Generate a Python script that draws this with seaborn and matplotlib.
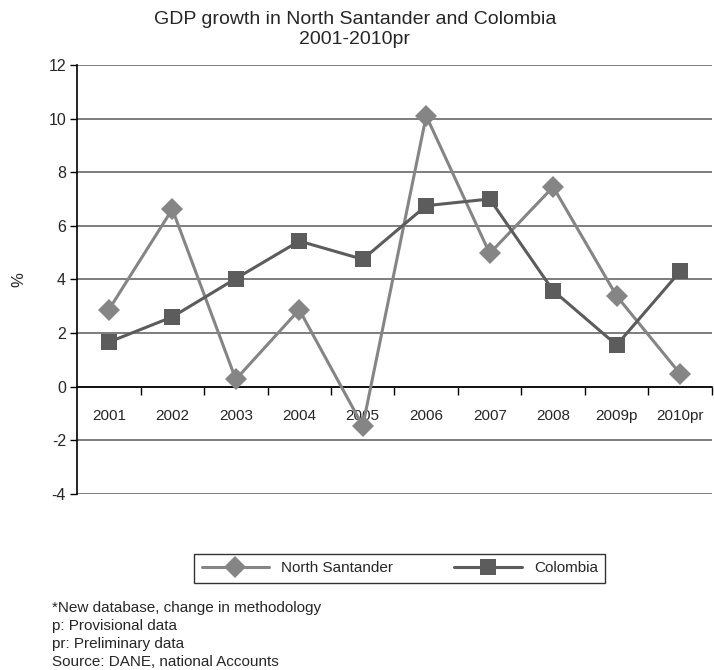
import pandas as pd
import matplotlib
matplotlib.use('Agg')
import matplotlib.pyplot as plt
import seaborn as sns

years = ['2001', '2002', '2003', '2004', '2005', '2006', '2007', '2008', '2009p', '2010pr']
north_santander = [2.87, 6.62, 0.27, 2.87, -1.47, 10.1, 4.97, 7.45, 3.38, 0.48]
colombia = [1.66, 2.6, 4.03, 5.43, 4.75, 6.75, 7.0, 3.58, 1.55, 4.3]
series_names = ['North Santander', 'Colombia']
notes = ['*New database, change in methodology',
         'p: Provisional data',
         'pr: Preliminary data',
         'Source: DANE, national Accounts']

df = pd.DataFrame({
    'year': years * 2,
    'growth': north_santander + colombia,
    'region': [series_names[0]] * len(years) + [series_names[1]] * len(years),
})

sns.set_style('white')
plt.rcParams['font.family'] = ['Liberation Sans', 'DejaVu Sans']
plt.rcParams['axes.unicode_minus'] = False

fig = plt.figure(figsize=(7.14, 6.70), dpi=100)
ax = fig.add_axes([0.108, 0.263, 0.889, 0.640])

# gridlines first so the lines sit on top
for yv in range(-4, 13, 2):
    ax.axhline(yv, color='#5a5a5a', lw=1.1, zorder=1)

sns.lineplot(data=df, x='year', y='growth', hue='region', style='region',
             palette={'North Santander': '#858585', 'Colombia': '#5c5c5c'},
             markers={'North Santander': 'D', 'Colombia': 's'},
             dashes=False, sort=False, lw=2.2, markersize=11,
             markeredgewidth=0, ax=ax, zorder=3)

ax.set_xlim(-0.5, 9.5)
ax.set_ylim(-4, 12)
ax.set_yticks(range(-4, 13, 2))
ax.tick_params(axis='y', which='major', direction='out', length=5, width=1,
               color='black', labelsize=11.5, pad=3, left=True)

# x axis sits on the zero line, with small ticks between categories
ax.spines['bottom'].set_position(('data', 0))
ax.spines['bottom'].set_color('black')
ax.spines['left'].set_color('black')
ax.spines['left'].set_linewidth(1.2)
ax.spines['bottom'].set_linewidth(1.2)
ax.spines['top'].set_visible(False)
ax.spines['right'].set_visible(False)
ax.set_xticks(range(len(years)))
ax.set_xticklabels(years)
ax.set_xticks([i + 0.5 for i in range(len(years))], minor=True)
ax.tick_params(axis='x', which='major', length=0, labelsize=11, pad=16)
ax.tick_params(axis='x', which='minor', direction='out', length=6, width=1,
               color='black', bottom=True)

ax.set_xlabel('')
ax.set_ylabel('%', fontsize=12, labelpad=16)

fig.text(0.497, 0.956, 'GDP growth in North Santander and Colombia\n2001-2010pr',
         ha='center', va='center', fontsize=14, linespacing=1.25)

handles, labels = ax.get_legend_handles_labels()
ax.legend_.remove()
leg = fig.legend(handles, labels, loc='center', bbox_to_anchor=(0.56, 0.152),
                 ncol=2, frameon=True, fancybox=False, fontsize=11,
                 handlelength=4.4, columnspacing=4, borderpad=0.5,
                 edgecolor='black')
leg.get_frame().set_linewidth(1)

fig.text(0.073, 0.103, '\n'.join(notes), ha='left', va='top', fontsize=11,
         linespacing=1.35)

fig.savefig('out.png', dpi=100)
